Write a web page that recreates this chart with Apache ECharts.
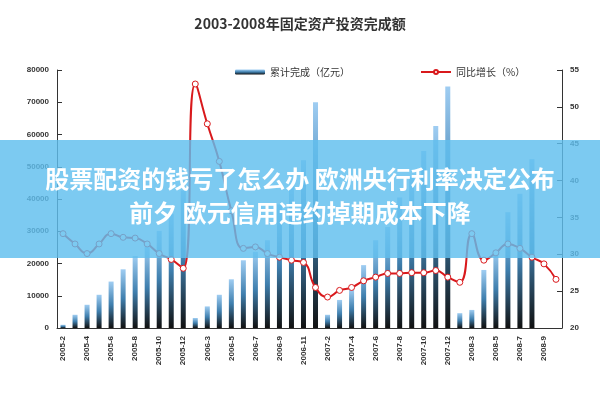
<!DOCTYPE html>
<html>
<head>
<meta charset="utf-8">
<script src="https://cdn.jsdelivr.net/npm/echarts@6/dist/echarts.min.js"></script>
<style>html,body{margin:0;padding:0;background:#fff}#main{width:600px;height:400px}</style>
</head>
<body>
<div id="main"></div>
<script>
var months = [2,3,4,5,6,7,8,9,10,11,12];
var categories = [];
[2005,2006,2007].forEach(function(y){ months.forEach(function(m){ categories.push(y+'-'+m); }); });
[2,3,4,5,6,7,8,9,10].forEach(function(m){ categories.push('2008-'+m); });

// 累计完成（亿元）
var totalValues = [
  1000,4100,7200,10300,14400,18200,22300,25100,30100,35400,42600,
  3100,6700,10300,15100,21000,23600,27200,38300,44000,52000,70000,
  4100,8700,11800,19500,27200,31300,40500,46700,54900,62600,74900,
  4600,5600,18000,24100,35900,41600,52300,null,null
];
// 同比增长（%）
var growthValues = [
  32.8,31.4,30.1,31.4,32.8,32.3,32.2,31.4,30.1,29.3,28.1,
  53.1,47.7,42.6,35.9,30.8,31.0,30.1,29.6,29.2,28.9,25.5,
  24.2,25.1,25.5,26.4,26.9,27.4,27.4,27.5,27.5,27.8,26.9,
  26.2,32.8,29.2,30.2,31.4,30.8,29.6,28.7,26.6
];
var leftTicks = [0,10000,20000,30000,40000,50000,60000,70000,80000];
var rightTicks = [20,25,30,35,40,45,50,55];

var chart = echarts.init(document.getElementById('main'));
var option = {
    animation: false,
    title: {
        text: '2003-2008年固定资产投资完成额',
        left: 'center', top: 12,
        textStyle: { fontSize: 14, fontWeight: 'bold', color: '#333', fontFamily: 'Noto Sans CJK SC' }
    },
    legend: {
        top: 62, left: 230, itemGap: 70, itemWidth: 30, itemHeight: 5,
        textStyle: { fontSize: 10, color: '#333', fontFamily: 'Noto Sans CJK SC' },
        data: ['累计完成（亿元）', '同比增长（%）']
    },
    grid: { left: 57, right: 38, top: 70, bottom: 72 },
    xAxis: {
        type: 'category',
        data: categories,
        axisLine: { lineStyle: { color: '#333' } },
        axisTick: { show: false },
        axisLabel: { interval: 1, rotate: 90, fontSize: 8, color: '#333', fontWeight: 'bold' }
    },
    yAxis: [
        {
            type: 'value', min: leftTicks[0], max: leftTicks[leftTicks.length-1], interval: 10000,
            axisLine: { show: true, lineStyle: { color: '#333' } },
            axisTick: { show: true, inside: true },
            splitLine: { show: false },
            axisLabel: { fontSize: 8, color: '#333', fontWeight: 'bold', formatter: function(v){ return String(v); } }
        },
        {
            type: 'value', min: rightTicks[0], max: rightTicks[rightTicks.length-1], interval: 5,
            axisLine: { show: true, lineStyle: { color: '#333' } },
            axisTick: { show: true, inside: true },
            splitLine: { show: false },
            axisLabel: { fontSize: 8, color: '#333', fontWeight: 'bold' }
        }
    ],
    series: [
        {
            name: '累计完成（亿元）', type: 'bar', barWidth: 5,
            data: totalValues,
            itemStyle: {
                color: new echarts.graphic.LinearGradient(0, 0, 0, 1, [
                    { offset: 0, color: '#9fcdf2' },
                    { offset: 0.5, color: '#3f7fae' },
                    { offset: 1, color: '#111' }
                ])
            }
        },
        {
            name: '同比增长（%）', type: 'line', yAxisIndex: 1,
            data: growthValues,
            smooth: true, symbol: 'circle', symbolSize: 6, showSymbol: true,
            lineStyle: { color: '#d9191c', width: 2 },
            itemStyle: { color: '#fff', borderColor: '#d9191c', borderWidth: 1 }
        }
    ],
    graphic: [
        {
            type: 'rect', left: 0, top: 140, z: 100,
            shape: { width: 600, height: 118 },
            style: { fill: 'rgba(95,190,238,0.82)' }
        },
        {
            type: 'text', left: 'center', top: 167, z: 101,
            style: { text: '股票配资的钱亏了怎么办 欧洲央行利率决定公布', fill: '#fff', font: 'bold 24px "Noto Sans CJK SC"' }
        },
        {
            type: 'text', left: 'center', top: 201, z: 101,
            style: { text: '前夕 欧元信用违约掉期成本下降', fill: '#fff', font: 'bold 24px "Noto Sans CJK SC"' }
        }
    ]
};
chart.setOption(option);
</script>
</body>
</html>
